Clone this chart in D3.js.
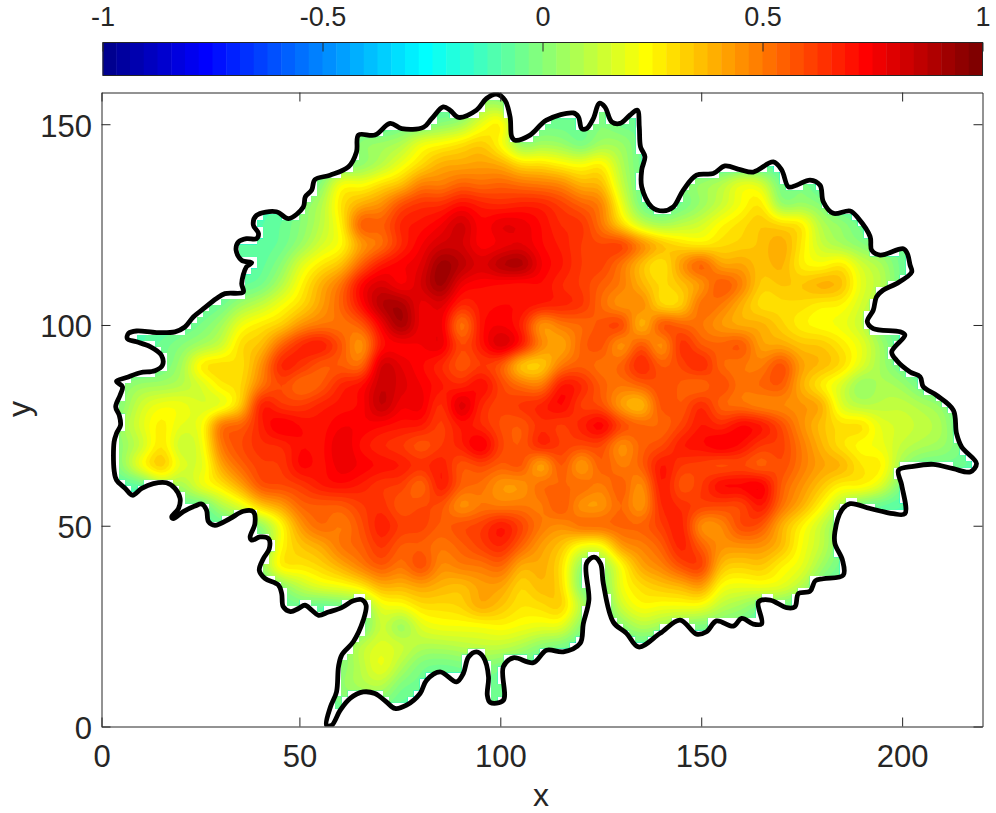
<!DOCTYPE html>
<html>
<head>
<meta charset="utf-8">
<style>
  html, body { margin: 0; padding: 0; background: #fff; }
  svg { display: block; }
  text { font-family: "Liberation Sans", Arial, sans-serif; fill: #262626; }
</style>
<script src="https://cdn.jsdelivr.net/npm/d3@7/dist/d3.min.js"></script>
</head>
<body>
<div id="chart"></div>
<script>
// tick labels
var xTickVals = [0.75, 50, 100, 150, 200];
var xTickLabels = ["0", "50", "100", "150", "200"];
var yTicks = [0, 50, 100, 150];
var barTicks = [-1, -0.5, 0, 0.5, 1];

// outline of the region, x,y pairs
var boundary = [
  [56.3,0.3],[57.3,4.9],[58.8,8.6],[59.3,14.9],[60.1,17.8],[63,21.1],[65.5,26.5],[66.2,30.2],[65.1,31.6],[63,31.3],
  [60.1,29.6],[56.8,28.5],[54.3,27.7],[52.6,29],[50.9,30.2],[49.3,29.4],[47.3,28.6],[45.5,29.8],[45.1,33.1],[44.3,35.2],
  [40.9,36.9],[39.5,38.9],[40.5,41.8],[42,44.3],[41.8,46.8],[39.7,47.2],[37.6,46.4],[37.2,47.2],[38.4,50.5],[38,53.5],
  [35.5,53.6],[32.2,51.8],[28.4,50.1],[26.8,51],[26.3,53.9],[25.1,55.4],[23.4,54.9],[20.5,53.5],[18,51.8],[17.6,52.2],
  [19.3,54.3],[19.7,56.8],[18.4,59.3],[16.3,60.7],[13,60.5],[10.1,59.3],[7.8,57.6],[6,59.3],[3.8,61.4],[3.2,63.8],
  [3.2,70.9],[3.8,73],[4.8,75],[4.5,77.5],[3.6,79.6],[4.7,82.5],[5.3,84.6],[3.8,86],[6.3,86.9],[9.7,88.1],
  [13.4,88.6],[15.3,90],[15,92.5],[12.2,94.6],[8.8,95.8],[6.5,96.6],[6.8,97.9],[8.8,98.5],[13.8,98.1],[18.4,98.3],
  [20.9,99.5],[23,102],[25.1,103.7],[28.8,106.6],[30.9,107.8],[35.5,108.2],[35.1,110.3],[36.3,114.5],[37.6,115.5],[35.1,116.1],
  [33.7,118.6],[34.3,120.7],[36.3,121.5],[38.8,121.5],[39.3,122.8],[38,124.9],[38.8,127.3],[43.8,128.2],[46.8,126.5],[50.5,129.4],
  [51,131.9],[52.6,133.6],[53.4,136.2],[57.2,137.3],[61.8,139.4],[63.8,143.1],[64.3,147.3],[68.4,147.3],[72.2,150.2],[75.1,148.9],
  [80.5,149.2],[82.6,151.4],[85.5,154.3],[87.2,153.5],[89.3,151.7],[93.8,153.5],[96.3,156.4],[98.8,157.5],[100.9,156],[102.2,151.8],
  [102.6,146.9],[103.4,146],[107.2,147.3],[111.3,151],[118,152.8],[119.3,151.8],[120.1,148.9],[121.3,148.9],[123,151.4],[124.5,155.2],
  [125.9,154.3],[127.6,150.6],[129.7,150.2],[132.2,152.3],[134,153.5],[134.5,149.3],[134.8,144.4],[135.9,141.9],[135.1,138.6],[135.1,134.4],
  [137.6,129.4],[140.5,128.4],[143,129.4],[145.5,133.6],[148.8,137.3],[153,137.7],[155.9,139.6],[159.7,138.7],[163,138.1],[168,140.6],
  [170.1,138.6],[171.8,134.4],[173.8,134.8],[177.2,136.1],[179.7,134.8],[180.5,130.7],[183,127.8],[187.2,128.4],[189.3,126.5],[192.2,122],
  [192.6,118.6],[194.7,117.4],[200.5,119],[201.5,117.8],[202.2,114.9],[202.6,113.2],[198.8,110.3],[195.5,108.7],[193.8,107],[193,103.7],
  [191.5,100.8],[193,99.1],[199.7,98.3],[200.9,97.5],[197.6,93.3],[198.8,91.2],[202.2,88.3],[204.7,87.1],[205.5,84.6],[208.8,82.5],
  [213,78.8],[213.8,73],[215.1,69.6],[218.8,65.5],[217.2,63.4],[213,64.2],[208,65.3],[203,64.8],[199.3,63.8],[200.1,60.1],
  [200.9,53],[198,53],[192.2,54.3],[187.2,55.5],[185.1,53.9],[183.4,48.5],[183.4,45.6],[185.3,41.4],[185.5,37.7],[180.5,36.8],
  [178.5,36.3],[177.2,33.7],[174.3,33.1],[173.4,29.8],[171.3,29.6],[167.2,31.5],[164.3,31],[165.1,25.6],[163,25.5],[160.1,26.9],
  [158,25],[153.8,26.3],[151.3,23.6],[148.8,23],[144.7,26.5],[139.7,23.2],[134.3,19.8],[131.3,23.2],[128,26],[125.5,35.6],
  [124.8,40.6],[123.2,42.2],[121.3,40.6],[121.9,31.5],[120.5,25.6],[119.7,20.7],[115.5,18.6],[111.3,19],[108,15.9],[103,17.1],
  [100.5,14.9],[100.5,6.5],[97.2,6],[96.5,7.8],[96.8,12.4],[95.5,17.3],[93.8,18.6],[91.8,17.3],[90.5,13.2],[88.8,11.1],
  [84.7,13.6],[81.3,11.5],[79.7,8.2],[76.3,5.3],[73.4,4.5],[71.3,6.1],[68.4,8.2],[65.5,8.6],[62.2,7],[59.7,4],[57.6,0.3]
];

// field values in hundredths, estimated from the colours on a 5 unit grid
// _ is the value used outside the outline
var _ = -10;
var fieldX = d3.range(0, 221, 5);
var fieldY = d3.range(160, -1, -5); // first row is the top one
var fieldRows = [
  [_,_,_,_,_, _,_,_,_,_, _,_,_,_,_, _,_,_,_,_, _,_,_,_,_, _,_,_,_,_, _,_,_,_,_, _,_,_,_,_, _,_,_,_,_],
  [_,_,_,_,_, _,_,_,_,_, _,_,_,_,_, _,_,_,_,5, 5,_,_,_,_, 0,_,_,_,_, _,_,_,_,_, _,_,_,_,_, _,_,_,_,_],
  [_,_,_,_,_, _,_,_,_,_, _,_,_,_,_, -5,-5,0,5,20, 30,_,-5,-5,-5, 0,-5,-5,_,_, _,_,_,_,_, _,_,_,_,_, _,_,_,_,_],
  [_,_,_,_,_, _,_,_,_,_, _,_,_,3,5, 8,22,25,30,35, 22,0,5,3,-5, 5,5,-5,_,_, _,_,_,_,_, _,_,_,_,_, _,_,_,_,_],
  [_,_,_,_,_, _,_,_,_,_, _,_,-5,0,8, 20,30,40,40,42, 40,30,30,25,22, 28,8,-5,_,_, _,_,_,_,_, _,_,_,_,_, _,_,_,_,_],
  [_,_,_,_,_, _,_,_,_,_, _,0,25,22,30, 35,50,48,55,52, 55,52,50,48,38, 38,12,-5,_,0, 5,10,22,18,-5, 0,_,_,_,_, _,_,_,_,_],
  [_,_,_,_,_, _,_,_,_,_, 0,8,30,40,45, 60,65,65,72,68, 65,68,68,62,55, 50,20,-5,_,-5, 3,12,22,30,0, 3,0,_,_,_, _,_,_,_,_],
  [_,_,_,_,_, _,_,_,_,-6, 0,10,25,60,55, 68,70,75,85,72, 80,78,72,65,65, 50,30,12,5,10, 15,25,30,35,32, 30,8,3,-5,_, _,_,_,_,_],
  [_,_,_,_,_, _,_,-8,-8,-6, 3,15,22,42,50, 65,75,82,82,72, 75,78,72,68,62, 60,65,50,38,30, 25,30,32,35,42, 28,12,5,0,-5, -5,_,_,_,_],
  [_,_,_,_,_, _,_,-8,-8,0, 18,28,35,55,70, 75,78,95,88,80, 90,93,75,70,62, 62,50,35,25,45, 60,40,42,35,40, 25,22,30,15,8, -5,_,_,_,_],
  [_,_,_,_,_, _,_,-8,-5,8, 25,40,52,75,82, 72,82,95,75,72, 70,68,72,65,62, 55,50,38,30,35, 42,60,50,32,35, 35,42,38,18,10, -5,_,_,_,_],
  [_,_,_,_,_, -8,-5,5,12,22, 30,42,55,72,90, 92,75,80,65,70, 72,72,70,68,65, 52,42,50,28,30, 55,50,38,28,30, 30,25,25,15,5, -8,_,_,_,_],
  [_,_,_,_,-8, -3,5,22,28,32, 45,50,50,55,75, 94,75,78,45,72, 75,68,40,50,52, 58,65,32,62,55, 50,42,38,40,32, 25,22,20,12,-3, -8,_,_,_,_],
  [_,_,_,-5,0, 5,12,32,35,55, 68,72,58,40,70, 72,75,80,58,70, 85,72,48,38,55, 60,40,60,40,68, 55,55,60,40,40, 35,35,28,20,5, -8,_,_,_,_],
  [_,_,_,-5,5, 30,32,28,45,70, 65,55,55,50,85, 78,72,65,55,62, 55,30,30,50,55, 50,55,70,55,60, 70,52,50,48,62, 42,38,32,18,5, -5,_,_,_,_],
  [_,0,5,5,8, 15,28,30,50,60, 50,55,68,72,85, 80,75,70,65,75, 60,52,48,72,68, 55,50,55,60,55, 50,62,50,55,58, 38,25,15,0,8, 5,-5,_,_,_],
  [_,0,15,22,22, 15,15,32,72,62, 62,68,70,72,88, 75,78,62,85,65, 60,65,68,75,60, 58,40,32,60,55, 68,52,50,45,45, 45,42,15,8,10, 12,8,3,_,_],
  [_,5,18,28,18, 20,55,55,68,78, 72,70,75,75,72, 70,70,60,70,65, 58,55,65,60,68, 78,62,55,52,60, 70,65,75,72,60, 45,35,30,32,18, 15,12,8,-8,_],
  [_,2,12,30,10, 18,52,60,65,65, 72,70,80,70,65, 62,55,62,68,80, 60,55,70,62,60, 60,42,55,58,70, 72,78,72,62,62, 50,38,28,22,20, 12,8,5,-3,_],
  [_,2,25,38,18, 15,42,55,62,62, 75,70,78,75,72, 70,65,70,55,60, 55,60,35,60,38, 58,48,55,72,62, 60,55,58,52,60, 50,42,40,28,28, 5,-5,-5,-5,_],
  [_,_,_,8,5, 22,28,42,60,60, 62,70,72,68,62, 62,50,72,55,52, 42,42,55,52,55, 48,58,42,72,55, 62,75,75,78,55, 45,35,25,28,18, -3,_,_,_,_],
  [_,_,_,_,-5, -8,8,18,35,42, 55,55,55,62,65, 55,60,58,42,50, 48,50,48,60,42, 42,55,40,68,65, 62,60,58,72,52, 40,25,8,-5,-8, _,_,_,_,_],
  [_,_,_,_,_, _,-8,-5,0,22, 45,55,48,58,70, 62,62,55,60,62, 72,62,50,45,55, 55,55,55,62,70, 42,45,62,58,38, 25,12,-3,_,_, _,_,_,_,_],
  [_,_,_,_,_, _,_,_,-5,25, 35,40,52,55,65, 55,55,50,55,62, 68,55,42,35,20, 20,45,48,55,70, 55,45,45,45,38, 22,12,-3,_,_, _,_,_,_,_],
  [_,_,_,_,_, _,_,_,3,30, 28,32,40,50,58, 50,62,45,50,50, 55,38,40,30,0, 0,22,42,48,60, 65,35,32,35,25, 20,5,-5,_,_, _,_,_,_,_],
  [_,_,_,_,_, _,_,_,_,0, 12,20,22,28,40, 38,42,38,35,42, 42,30,38,32,-3, -5,22,30,35,38, 45,22,20,22,20, 10,-5,_,_,_, _,_,_,_,_],
  [_,_,_,_,_, _,_,_,_,-8, -5,-8,-5,-3,20, 22,30,30,32,42, 35,28,30,35,10, -8,15,25,22,22, 22,10,5,-3,-3, -8,_,_,_,_, _,_,_,_,_],
  [_,_,_,_,_, _,_,_,_,_, _,_,_,-8,15, 0,18,22,22,22, 25,22,20,20,0, -8,0,10,5,0, -3,-3,-5,_,_, _,_,_,_,_, _,_,_,_,_],
  [_,_,_,_,_, _,_,_,_,_, _,_,-3,12,18, 15,8,8,10,12, 12,8,0,-3,-8, -8,-8,-8,_,_, _,_,_,_,_, _,_,_,_,_, _,_,_,_,_],
  [_,_,_,_,_, _,_,_,_,_, _,_,0,10,22, 8,-3,-5,-3,0, -3,-8,_,_,_, _,_,_,_,_, _,_,_,_,_, _,_,_,_,_, _,_,_,_,_],
  [_,_,_,_,_, _,_,_,_,_, _,_,3,8,10, -3,-5,-8,-8,-5, -5,_,_,_,_, _,_,_,_,_, _,_,_,_,_, _,_,_,_,_, _,_,_,_,_],
  [_,_,_,_,_, _,_,_,_,_, _,_,-3,-5,-3, -8,-8,-8,-8,-5, -5,_,_,_,_, _,_,_,_,_, _,_,_,_,_, _,_,_,_,_, _,_,_,_,_],
  [_,_,_,_,_, _,_,_,_,_, _,_,_,_,_, _,_,_,_,_, _,_,_,_,_, _,_,_,_,_, _,_,_,_,_, _,_,_,_,_, _,_,_,_,_]
];

var width = 996, height = 813;
var svg = d3.select("#chart").append("svg").attr("width", width).attr("height", height);

// the outline and field were read against x = (px - 101.3) / 4,
// the printed ticks sit on a slightly different spacing, so they get their own scale
var x = d3.scaleLinear().domain([0, 220]).range([101.3, 981.3]);
var xTickScale = d3.scaleLinear().domain([0.75, 220]).range([101.5, 982.5]);
var y = d3.scaleLinear().domain([0, 157.9]).range([726.5, 92.5]);
var barScale = d3.scaleLinear().domain([-1, 1]).range([102.5, 982.5]);

// jet(64)
function clamp01(v) { return Math.max(0, Math.min(1, v)); }
var jet = d3.range(64).map(function (i) {
  var t = (i + 1) / 64;
  return d3.rgb(
    255 * clamp01(Math.min(4 * t - 1.5, -4 * t + 4.5)),
    255 * clamp01(Math.min(4 * t - 0.5, -4 * t + 3.5)),
    255 * clamp01(Math.min(4 * t + 0.5, -4 * t + 2.5))
  ).formatHex();
});

// only to draw the coarse grid smoothly: half catmull-rom, half b-spline,
// one keeps the small blobs and the other takes the checker pattern out
function smooth(a, b, c, d, t) {
  var u = 1 - t;
  var cr = b + 0.5 * t * (c - a + t * (2 * a - 5 * b + 4 * c - d + t * (3 * (b - c) + d - a)));
  var bs = (u * u * u * a + (3 * t * t * t - 6 * t * t + 4) * b +
    (-3 * t * t * t + 3 * t * t + 3 * t + 1) * c + t * t * t * d) / 6;
  return 0.5 * cr + 0.5 * bs;
}
var k = 5; // subdivisions per grid step
var rowsUp = fieldRows.slice().reverse();
var nx = fieldX.length, ny = fieldY.length;
var gw = (nx - 1) * k + 1, gh = (ny - 1) * k + 1;

function at(i, j) {
  i = Math.max(0, Math.min(nx - 1, i));
  j = Math.max(0, Math.min(ny - 1, j));
  return rowsUp[j][i] / 100;
}

var fine = new Float64Array(gw * gh);
for (var j = 0; j < gh; j++) {
  var j0 = Math.floor(j / k), tj = j / k - j0;
  for (var i = 0; i < gw; i++) {
    var i0 = Math.floor(i / k), ti = i / k - i0;
    var col = [];
    for (var m = -1; m <= 2; m++) {
      col.push(smooth(at(i0 - 1, j0 + m), at(i0, j0 + m), at(i0 + 1, j0 + m), at(i0 + 2, j0 + m), ti));
    }
    fine[j * gw + i] = smooth(col[0], col[1], col[2], col[3], tj);
  }
}

var line = d3.line()
  .x(function (d) { return x(d[0]); })
  .y(function (d) { return y(d[1]); })
  .curve(d3.curveCatmullRomClosed.alpha(0.5));

var defs = svg.append("defs");
defs.append("clipPath").attr("id", "boxClip").append("rect")
  .attr("x", x(0)).attr("y", y(157.9))
  .attr("width", 881).attr("height", y(0) - y(157.9));

// outline drawn once so it can be sampled for the blocky field mask
var outline = svg.append("path").attr("d", line(boundary)).attr("fill", "none");
var len = outline.node().getTotalLength();
var ring = d3.range(0, len, 3).map(function (s) {
  var p = outline.node().getPointAtLength(s);
  return [p.x, p.y];
});
outline.remove();

// the field stops on a coarse grid inside the outline, that leaves the white steps
var cell = 1.5;
var maskPath = "";
d3.range(0, 158, cell).forEach(function (cy) {
  var runStart = null;
  var cols = d3.range(0, 222, cell);
  cols.forEach(function (cx, n) {
    var x0 = x(cx), x1 = x(cx + cell), y0 = y(cy), y1 = y(cy + cell);
    var ok = d3.polygonContains(ring, [(x0 + x1) / 2, (y0 + y1) / 2]) &&
      d3.polygonContains(ring, [x0, y0]) && d3.polygonContains(ring, [x1, y0]) &&
      d3.polygonContains(ring, [x0, y1]) && d3.polygonContains(ring, [x1, y1]);
    if (ok && runStart === null) runStart = x0;
    if (runStart !== null && (!ok || n === cols.length - 1)) {
      maskPath += "M" + runStart + " " + y0 + "H" + x0 + "V" + y1 + "H" + runStart + "Z";
      runStart = null;
    }
  });
});
defs.append("clipPath").attr("id", "fieldClip").append("path").attr("d", maskPath);

// field as nested filled contours, one per colormap level
var thresholds = d3.range(64).map(function (i) { return -1 + i / 32; });
var contours = d3.contours().size([gw, gh]).smooth(true).thresholds(thresholds)(Array.from(fine));
var project = d3.geoTransform({
  point: function (px, py) {
    this.stream.point(x((px - 0.5) / k * 5), y((py - 0.5) / k * 5));
  }
});
var geoPath = d3.geoPath(project);

svg.append("g").attr("clip-path", "url(#fieldClip)")
  .selectAll("path")
  .data(contours.filter(function (c) { return c.coordinates.length > 0; }))
  .join("path")
  .attr("d", geoPath)
  .attr("fill", function (c) { return jet[thresholds.indexOf(c.value)]; });

svg.append("g").attr("clip-path", "url(#boxClip)")
  .append("path")
  .attr("d", line(boundary))
  .attr("fill", "none")
  .attr("stroke", "#000")
  .attr("stroke-width", 4.8)
  .attr("stroke-linejoin", "round");

// axes, ticks point inward on all four sides
function styleAxis(g, size) {
  g.selectAll("path.domain").attr("stroke", "#262626").attr("stroke-width", 1);
  g.selectAll(".tick line").attr("stroke", "#262626").attr("stroke-width", 1);
  g.selectAll("text").attr("font-size", size || 31).style("font-family", '"Liberation Sans", Arial, sans-serif').attr("fill", "#262626");
}

var yBottom = y(0), yTop = y(157.9), xLeft = 101.5, xRight = 982.5;

svg.append("g").attr("transform", "translate(0," + yBottom + ")")
  .call(d3.axisBottom(xTickScale).tickValues(xTickVals)
    .tickFormat(function (d, i) { return xTickLabels[i]; })
    .tickSizeInner(-9).tickSizeOuter(0).tickPadding(18.5))
  .call(styleAxis);

svg.append("g").attr("transform", "translate(0," + yTop + ")")
  .call(d3.axisTop(xTickScale).tickValues(xTickVals).tickFormat("")
    .tickSizeInner(-9).tickSizeOuter(0))
  .call(styleAxis);

svg.append("g").attr("transform", "translate(" + xLeft + ",0)")
  .call(d3.axisLeft(y).tickValues(yTicks).tickFormat(d3.format("d"))
    .tickSizeInner(-9).tickSizeOuter(0).tickPadding(9.5))
  .call(styleAxis)
  .call(function (g) { g.selectAll("text").attr("dy", "0.38em"); });

svg.append("g").attr("transform", "translate(" + xRight + ",0)")
  .call(d3.axisRight(y).tickValues(yTicks).tickFormat("")
    .tickSizeInner(-9).tickSizeOuter(0))
  .call(styleAxis);

svg.append("text").attr("x", 541).attr("y", 806)
  .attr("text-anchor", "middle").attr("font-size", 32).text("x");

svg.append("text").attr("transform", "translate(29.5,409) rotate(-90)")
  .attr("text-anchor", "middle").attr("font-size", 32).text("y");

// colorbar
var barTop = 42.5, barBottom = 75.5;
var barLevels = d3.range(64);
svg.append("g").selectAll("rect")
  .data(barLevels)
  .join("rect")
  .attr("x", function (d) { return barScale(-1 + d / 32); })
  .attr("y", barTop)
  .attr("width", barScale(-1 + 1 / 32) - barScale(-1) + 0.5)
  .attr("height", barBottom - barTop)
  .attr("fill", function (d) { return jet[d]; });

svg.append("rect")
  .attr("x", 103).attr("y", barTop)
  .attr("width", 879.5).attr("height", barBottom - barTop)
  .attr("fill", "none").attr("stroke", "#262626").attr("stroke-width", 1);

svg.append("g").attr("transform", "translate(0," + barTop + ")")
  .call(d3.axisTop(barScale).tickValues(barTicks).tickFormat(d3.format("~g"))
    .tickSizeInner(-9).tickSizeOuter(0).tickPadding(16.5))
  .call(styleAxis, 27)
  .call(function (g) { g.select("path.domain").remove(); });

// d3's format uses a real minus sign, the picture has a hyphen
svg.selectAll("text").each(function () {
  var s = d3.select(this);
  s.text(s.text().replace("\u2212", "-"));
});
</script>
</body>
</html>
